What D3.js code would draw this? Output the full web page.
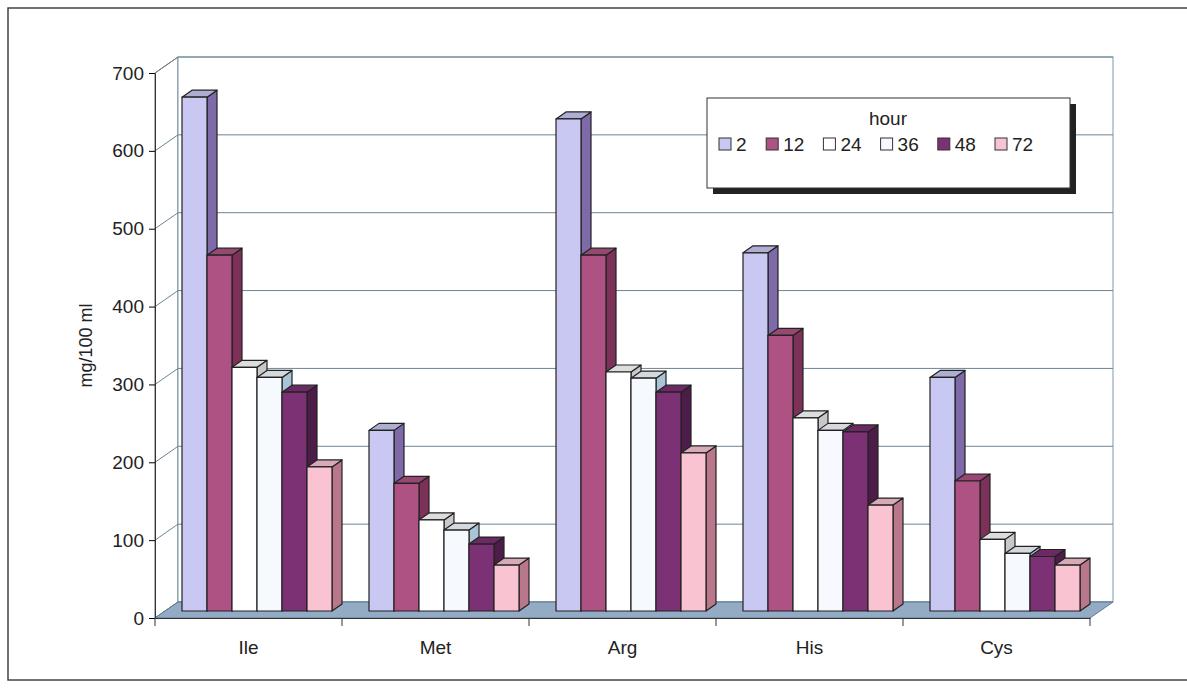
<!DOCTYPE html>
<html><head><meta charset="UTF-8">
<script src="https://cdnjs.cloudflare.com/ajax/libs/d3/7.8.5/d3.min.js"></script>
<style>body{margin:0;background:#fff}text{font-family:Arial,"Liberation Sans",sans-serif;fill:#222}</style>
</head><body><svg id="c" width="1187" height="688"></svg>
<script>
const categories = ["Ile", "Met", "Arg", "His", "Cys"];
const hours = ["2", "12", "24", "36", "48", "72"];
const values = [
  [660, 457, 313, 300, 281, 185],
  [232, 164, 117, 104, 86, 59],
  [632, 457, 307, 299, 281, 203],
  [460, 354, 248, 232, 230, 136],
  [300, 167, 92, 74, 70, 59]
];
const yTicks = [0, 100, 200, 300, 400, 500, 600, 700];
const colors = ["#c9c8f2", "#ad5283", "#ffffff", "#f6faff", "#7b3173", "#f9c3d2"];
const sides = ["#7e6aa8", "#7c3158", "#c8c8c8", "#a9c4d6", "#4c1d48", "#b9778c"];

const svg = d3.select("#c");
const L = 155, R = 1090, B = 618, T = 73, DX = 23, DY = -16;
const y = d3.scaleLinear().domain([0, 700]).range([B, T]);
const x = d3.scaleBand().domain(categories).range([L, R]);
const xb = d3.scaleBand().domain(hours).range([25, 175]);

svg.append("rect").attr("x", 8).attr("y", 8).attr("width", 1181).attr("height", 672)
  .attr("fill", "none").attr("stroke", "#444").attr("stroke-width", 1.5);

// walls
svg.append("polygon").attr("points", [[L,B],[L,T],[L+DX,T+DY],[L+DX,B+DY]].join(" "))
  .attr("fill", "#fff").attr("stroke", "#666");
svg.append("rect").attr("x", L+DX).attr("y", T+DY).attr("width", R-L).attr("height", B-T)
  .attr("fill", "#fff").attr("stroke", "#7a9aaa");
yTicks.forEach(v => {
  svg.append("polyline").attr("points", [[L,y(v)],[L+DX,y(v)+DY],[R+DX,y(v)+DY]].join(" "))
    .attr("fill", "none").attr("stroke", "#6a8494").attr("stroke-width", 1);
});
// floor
svg.append("polygon").attr("points", [[L,B],[R,B],[R+DX,B+DY],[L+DX,B+DY]].join(" "))
  .attr("fill", "#93abc4").attr("stroke", "#5f7a90");

// axes
const ya = svg.append("g").attr("transform", `translate(${L},0)`)
  .call(d3.axisLeft(y).tickValues(yTicks).tickSize(6).tickSizeOuter(0));
ya.selectAll("text").style("font-size", "19px").attr("dx", "-2");
const xa = svg.append("g").attr("transform", `translate(0,${B})`)
  .call(d3.axisBottom(x).tickSize(0).tickSizeOuter(0));
xa.selectAll("text").style("font-size", "19px").attr("dy", "1.75em");
x.domain().concat([null]).forEach((c, i) => {
  const xx = L + i * x.bandwidth();
  svg.append("line").attr("x1", xx).attr("x2", xx).attr("y1", B).attr("y2", B + 8).attr("stroke", "#333");
});
svg.selectAll(".domain").attr("stroke", "#333");
svg.append("text").attr("transform", `translate(92,${(B+T)/2}) rotate(-90)`)
  .attr("text-anchor", "middle").style("font-size", "18px").text("mg/100 ml");

// bars
const bdx = 10, bdy = -7, ox = 2, oy = -7;
categories.forEach((c, ci) => {
  values[ci].forEach((v, hi) => {
    const x0 = x(c) + xb(hours[hi]) + ox, w = xb.bandwidth();
    const y0 = y(0) + oy, y1 = y(v) + oy;
    const g = svg.append("g").attr("stroke", "#222").attr("stroke-width", 1.2).attr("stroke-linejoin", "round");
    g.append("polygon").attr("points", [[x0+w,y0],[x0+w+bdx,y0+bdy],[x0+w+bdx,y1+bdy],[x0+w,y1]].join(" ")).attr("fill", sides[hi]);
    g.append("polygon").attr("points", [[x0,y1],[x0+bdx,y1+bdy],[x0+w+bdx,y1+bdy],[x0+w,y1]].join(" ")).attr("fill", d3.color(colors[hi]).darker(0.4));
    g.append("rect").attr("x", x0).attr("y", y1).attr("width", w).attr("height", y0 - y1).attr("fill", colors[hi]);
  });
});

// legend
const lg = svg.append("g").attr("transform", "translate(707,98)");
lg.append("rect").attr("x", 6).attr("y", 6).attr("width", 363).attr("height", 90).attr("fill", "#222");
lg.append("rect").attr("width", 363).attr("height", 90).attr("fill", "#fff").attr("stroke", "#333");
lg.append("text").attr("x", 181).attr("y", 27).attr("text-anchor", "middle").style("font-size", "19px").text("hour");
const lx = d3.scalePoint().domain(hours).range([12, 298]);
hours.forEach((h, i) => {
  const xx = i ? lx(h) - 10 : lx(h);
  lg.append("rect").attr("x", xx).attr("y", 40).attr("width", 12).attr("height", 12)
    .attr("fill", colors[i]).attr("stroke", "#333");
  lg.append("text").attr("x", xx + 17).attr("y", 53).style("font-size", "19px").text(h);
});
</script></body></html>
